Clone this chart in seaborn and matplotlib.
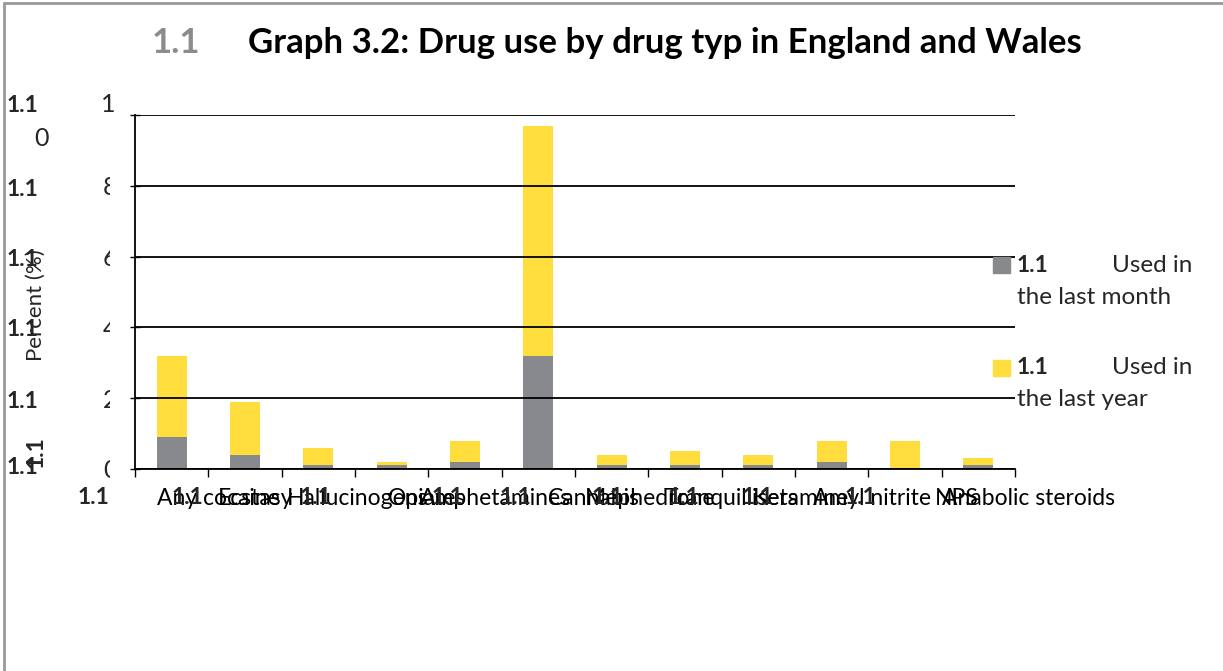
import matplotlib
matplotlib.use("Agg")
import matplotlib.pyplot as plt
import matplotlib.transforms as mtrans
from matplotlib.lines import Line2D
from matplotlib.patches import Rectangle
import seaborn as sns
import pandas as pd
import numpy as np

#### data
drugs = ["Any cocaine", "Ecstasy", "Hallucinogens", "Opiates", "Amphetamines",
         "Cannabis", "Mephedrone", "Tranquillisers", "Ketamine", "Amyl nitrite",
         "NPS", "Anabolic steroids"]
last_month = [0.9, 0.4, 0.1, 0.1, 0.2, 3.2, 0.1, 0.1, 0.1, 0.2, 0.0, 0.1]
last_year = [2.3, 1.5, 0.5, 0.1, 0.6, 6.5, 0.3, 0.4, 0.3, 0.6, 0.8, 0.2]
y_ticks = [0, 2, 4, 6, 8, 10]
y_ticklabels = ["0", "2", "4", "6", "8", ""]

# label shifts (pixels) so names overlap the way the original export does
label_dx = [-15, -27, -31, -4, -45, 10, -27, -20, -5, -19, 30, -36]

gray = "#88898D"
yellow = "#FFDD3C"

sns.set_theme(style="white")
plt.rcParams["font.family"] = ["Lato", "DejaVu Sans"]

W, H = 1223, 671
def fx(x): return x / W
def fy(y): return 1 - y / H

fig = plt.figure(figsize=(12.23, 6.71), dpi=100)
ax = fig.add_axes([fx(135), fy(469), 880 / W, 354 / H])

df = pd.DataFrame({"drug": drugs, "month": last_month, "year": last_year})
sns.barplot(data=df, x="drug", y="month", order=drugs, color=gray,
            saturation=1, width=0.41, errorbar=None, ax=ax, zorder=2, linewidth=0)
sns.barplot(data=df, x="drug", y="year", order=drugs, color=yellow,
            saturation=1, width=0.41, errorbar=None, bottom=df["month"].values,
            ax=ax, zorder=2, linewidth=0)

ax.set_xlim(-0.5, len(drugs) - 0.5)
ax.set_ylim(0, 10)
ax.set_xlabel("")
ax.set_ylabel("")

# grid on top of the bars, like the Excel export
ax.set_yticks(y_ticks)
ax.set_yticklabels(y_ticklabels, fontsize=18)
ax.yaxis.grid(True, color="black", lw=1.3, zorder=3)
ax.set_axisbelow(False)
ax.tick_params(axis="y", direction="inout", length=7, width=1, color="black",
               left=True, pad=9)
# the original cuts the tick numbers in half
clip = mtrans.TransformedBbox(mtrans.Bbox.from_extents(0, 0, fx(110), 1), fig.transFigure)
for lbl in ax.get_yticklabels():
    lbl.set_clip_box(clip)
    lbl.set_clip_on(True)

ax.set_xticks(range(len(drugs)))
ax.set_xticks(np.arange(-0.5, len(drugs), 1), minor=True)
ax.tick_params(axis="x", which="major", length=0, labelbottom=False)
ax.tick_params(axis="x", which="minor", direction="out", length=6, width=1,
               color="black", bottom=True)

for s in ["top", "right"]:
    ax.spines[s].set_visible(False)
for s in ["left", "bottom"]:
    ax.spines[s].set_color("black")
    ax.spines[s].set_linewidth(1.3)

# category names, overlapping
for i, (name, dx) in enumerate(zip(drugs, label_dx)):
    tr = mtrans.offset_copy(ax.get_xaxis_transform(), fig=fig, x=dx, y=0, units="dots")
    ax.text(i, -0.082, name, transform=tr, ha="left", va="center",
            fontsize=16.5, color="black", clip_on=False)

# stray "1.1" heading numbers from the source document
for x in [78, 172, 300, 432, 500, 592, 668, 742, 845]:
    fig.text(fx(x), fy(498), "1.1", fontsize=16.5, fontweight="bold", ha="left", va="center")
for y in [105, 190, 260, 330, 402, 468]:
    fig.text(fx(7), fy(y), "1.1", fontsize=16.5, fontweight="bold", ha="left", va="center")
fig.text(fx(36), fy(452), "1.1", fontsize=16.5, fontweight="bold", rotation=90,
         ha="center", va="center")

# wrapped "10" tick label
fig.text(fx(108), fy(104), "1", fontsize=18, ha="center", va="center")
fig.text(fx(42), fy(138), "0", fontsize=18, ha="center", va="center")

fig.text(fx(36), fy(305), "Percent (%)", fontsize=16, rotation=90, ha="center", va="center")

# title
fig.text(fx(152), fy(43), "1.1", fontsize=25, fontweight="bold", color="#8C8C8C",
         ha="left", va="center")
fig.text(fx(248), fy(43), "Graph 3.2: Drug use by drug typ in England and Wales",
         fontsize=25, fontweight="bold", color="black", ha="left", va="center")

# legend
for (y0, col, line2) in [(257, gray, "the last month"), (360, yellow, "the last year")]:
    fig.add_artist(Rectangle((fx(993), fy(y0 + 16)), 17 / W, 16 / H,
                             transform=fig.transFigure, color=col, zorder=5))
    fig.text(fx(1017), fy(y0 + 8), "1.1", fontsize=16.5, fontweight="bold",
             ha="left", va="center", zorder=5)
    fig.text(fx(1112), fy(y0 + 8), "Used in", fontsize=17.5, ha="left", va="center", zorder=5)
    fig.text(fx(1017), fy(y0 + 40), line2, fontsize=17.5, ha="left", va="center", zorder=5)

# page border
fig.add_artist(Line2D([fx(4), fx(4)], [0, fy(3)], transform=fig.transFigure,
                      color="#999999", lw=2))
fig.add_artist(Line2D([fx(4), 1], [fy(3), fy(3)], transform=fig.transFigure,
                      color="#999999", lw=2))

plt.savefig("out.png", dpi=100)
